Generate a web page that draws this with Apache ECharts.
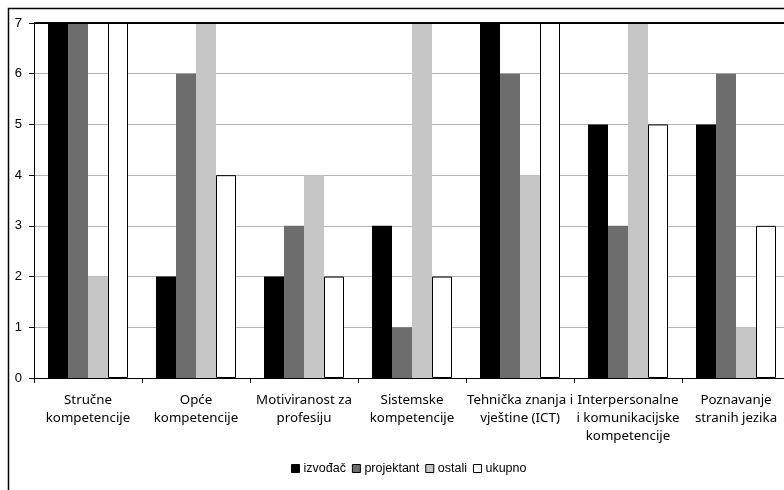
<!DOCTYPE html>
<html><head><meta charset="utf-8">
<script src="https://cdn.jsdelivr.net/npm/echarts@6/dist/echarts.min.js"></script>
<style>html,body{margin:0;padding:0;background:#fff}#c{width:784px;height:490px}</style>
</head><body><div id="c"></div>
<script>
var categories = ["Stručne\nkompetencije", "Opće\nkompetencije", "Motiviranost za\nprofesiju", "Sistemske\nkompetencije", "Tehnička znanja i\nvještine (ICT)", "Interpersonalne\ni komunikacijske\nkompetencije", "Poznavanje\nstranih jezika"];
var seriesNames = ["izvođač", "projektant", "ostali", "ukupno"];
var izvodac = [7, 2, 2, 3, 7, 5, 5];
var projektant = [7, 6, 3, 1, 6, 3, 6];
var ostali = [2, 7, 4, 7, 4, 7, 1];
var ukupno = [7, 4, 2, 2, 7, 5, 3];
var yTicks = [0, 1, 2, 3, 4, 5, 6, 7];

var colors = ["#000000", "#6d6d6d", "#c6c6c6", "#ffffff"];
var dataSets = [izvodac, projektant, ostali, ukupno];
var chart = echarts.init(document.getElementById('c'));
var series = dataSets.map(function (d, i) {
  return {
    name: seriesNames[i], type: 'bar', data: d, barWidth: 20, barGap: '0%',
    itemStyle: { color: colors[i], borderColor: i === 3 ? '#000' : colors[i], borderWidth: i === 3 ? 1 : 0 },
    emphasis: { disabled: true }, animation: false
  };
});
chart.setOption({
  animation: false,
  grid: { left: 34, top: 23, width: 756, bottom: 112, show: false, outerBoundsMode: 'none', containLabel: false },
  legend: {
    data: seriesNames, bottom: 10, left: 286, itemWidth: 8, itemHeight: 8, itemGap: 6, icon: 'rect',
    textStyle: { fontFamily: 'Liberation Sans, Arial', fontSize: 12.5, color: '#000', padding: [0, 0, 0, -1] },
    itemStyle: { borderColor: '#000', borderWidth: 1 }
  },
  xAxis: {
    type: 'category', data: categories,
    axisLine: { lineStyle: { color: '#000', width: 1 } },
    axisTick: { show: true, length: 5, lineStyle: { color: '#000' } },
    axisLabel: { interval: 0, margin: 13, fontFamily: 'Noto Sans, Open Sans', fontSize: 13.3, color: '#000', lineHeight: 18 }
  },
  yAxis: {
    type: 'value', min: yTicks[0], max: yTicks[yTicks.length - 1], interval: 1,
    axisLine: { show: true, lineStyle: { color: '#000', width: 1 } },
    axisTick: { show: true, length: 5, lineStyle: { color: '#000' } },
    axisLabel: { margin: 12, fontFamily: 'Liberation Sans, Arial', fontSize: 13, color: '#000' },
    splitLine: { show: true, lineStyle: { color: '#b4b4b4', width: 1 } }
  },
  graphic: [
    { type: 'rect', shape: { x: 8.5, y: 8.5, width: 800, height: 500 }, style: { fill: 'none', stroke: '#000', lineWidth: 1.5 }, silent: true },
    { type: 'line', shape: { x1: 34, y1: 23, x2: 784, y2: 23 }, style: { stroke: '#000', lineWidth: 2 }, silent: true, z: 10 }
  ],
  series: series
});
</script></body></html>
